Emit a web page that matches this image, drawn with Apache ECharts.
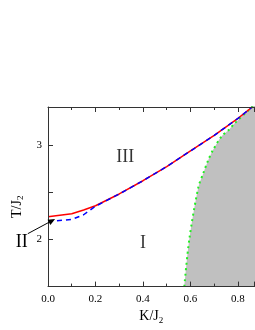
<!DOCTYPE html>
<html><head><meta charset="utf-8">
<script src="https://cdn.jsdelivr.net/npm/echarts@6/dist/echarts.min.js"></script>
<style>html,body{margin:0;padding:0;background:#fff}#c{width:255px;height:330px}</style>
</head><body><div id="c"></div>
<script>
// Data
const kValues   = [0, 0.1, 0.15, 0.2, 0.3, 0.4, 0.5, 0.6, 0.7, 0.8, 0.86];
const redT      = [2.24, 2.27, 2.31, 2.355, 2.48, 2.62, 2.77, 2.935, 3.10, 3.28, 3.40];
const blueT     = [2.19, 2.21, 2.26, 2.35, 2.48, 2.62, 2.77, 2.935, 3.10, 3.28, 3.40];
const boundaryK = [0.574, 0.595, 0.633, 0.654, 0.675, 0.696, 0.731, 0.762, 0.787, 0.851, 0.875];
const boundaryT = [1.5, 2.0, 2.55, 2.70, 2.84, 2.95, 3.09, 3.16, 3.23, 3.38, 3.43];
const regionLabels = [
  {text: 'III', k: 0.325, t: 2.87},
  {text: 'I',   k: 0.40,  t: 1.96}
];
const arrowFrom = [-0.085, 2.06];
const arrowTo   = [0.03, 2.215];
const arrowLabel = 'II';
const xTickLabels = ['0.0', '0.2', '0.4', '0.6', '0.8'];
const yTickLabels = ['2', '3'];

const serif = 'Liberation Serif';
const axisCol = '#333';
const chart = echarts.init(document.getElementById('c'));

function zip(a, b) { return a.map((v, i) => [v, b[i]]); }

const xCommon = {
  type: 'value', min: 0, max: 0.87, interval: 0.2, z: 5,
  axisLine: {show: true, onZero: false, lineStyle: {color: axisCol, width: 1}},
  axisTick: {show: true, inside: true, length: 5, lineStyle: {color: axisCol}},
  minorTick: {show: true, splitNumber: 2, length: 3, lineStyle: {color: axisCol}},
  splitLine: {show: false}
};

chart.setOption({
  animation: false,
  backgroundColor: '#fff',
  grid: {left: 48, top: 107, width: 206.6, height: 181.8, containLabel: false},
  xAxis: [
    Object.assign({}, xCommon, {
      position: 'bottom',
      axisLabel: {
        show: true, color: '#000', fontFamily: serif, fontSize: 11, margin: 7,
        showMaxLabel: false,
        formatter: v => { const s = v.toFixed(1); return xTickLabels.includes(s) ? s : ''; }
      },
      name: '{a|K/J}{s|2}', nameLocation: 'middle', nameGap: 18,
      nameTextStyle: {
        rich: {
          a: {fontFamily: serif, fontSize: 14, color: '#000'},
          s: {fontFamily: serif, fontSize: 9, color: '#000', verticalAlign: 'bottom', padding: [8, 0, 0, 0]}
        }
      }
    }),
    Object.assign({}, xCommon, {position: 'top', axisLabel: {show: false}})
  ],
  yAxis: [{
    type: 'value', min: 1.5, max: 3.4, interval: 0.5, z: 5,
    axisLine: {show: true, onZero: false, lineStyle: {color: axisCol, width: 1}},
    axisTick: {show: true, inside: true, length: 5, lineStyle: {color: axisCol}},
    splitLine: {show: false},
    axisLabel: {
      color: '#000', fontFamily: serif, fontSize: 11, margin: 6, showMaxLabel: false,
      formatter: v => { const s = String(Math.round(v)); return (Math.abs(v - Math.round(v)) < 1e-6 && yTickLabels.includes(s)) ? s : ''; }
    },
    name: '{a|T/J}{s|2}', nameLocation: 'middle', nameGap: 17, nameRotate: 90,
    nameTextStyle: {
      padding: [0, 20, 0, 0],
      rich: {
        a: {fontFamily: serif, fontSize: 14, color: '#000'},
        s: {fontFamily: serif, fontSize: 9, color: '#000', verticalAlign: 'bottom', padding: [8, 0, 0, 0]}
      }
    }
  }],
  series: [
    {
      type: 'line', data: zip(boundaryK, boundaryT), showSymbol: false, clip: true, z: 1,
      smooth: 0.3,
      lineStyle: {color: '#22ee22', width: 2, type: [2, 3.5]},
      areaStyle: {color: '#c0c0c0', opacity: 1, origin: 'start'}
    },
    {
      type: 'line', data: zip(kValues, redT), showSymbol: false, clip: true, z: 3,
      lineStyle: {color: '#ff0000', width: 1.5}
    },
    {
      type: 'line', data: zip(kValues, blueT), showSymbol: false, clip: true, z: 4,
      lineStyle: {color: '#0000ff', width: 1.5, type: [5, 4]}
    },
    {
      type: 'scatter', data: regionLabels.map(r => [r.k, r.t, r.text]), symbolSize: 0, z: 6,
      label: {show: true, position: 'inside', formatter: p => p.data[2], fontFamily: serif, fontSize: 18, color: '#000'}
    }
  ]
});

// Arrow annotation computed from data coordinates
const p0 = chart.convertToPixel({xAxisIndex: 0, yAxisIndex: 0}, arrowFrom);
const p1 = chart.convertToPixel({xAxisIndex: 0, yAxisIndex: 0}, arrowTo);
const dx = p1[0] - p0[0], dy = p1[1] - p0[1];
const len = Math.hypot(dx, dy), ux = dx / len, uy = dy / len;
const hl = 7, hw = 3;
const base = [p1[0] - ux * hl, p1[1] - uy * hl];
chart.setOption({graphic: [
  {type: 'line', z: 100, shape: {x1: p0[0], y1: p0[1], x2: base[0] + ux * 1, y2: base[1] + uy * 1},
   style: {stroke: '#000', lineWidth: 1}},
  {type: 'polygon', z: 100, shape: {points: [p1, [base[0] - uy * hw, base[1] + ux * hw], [base[0] + uy * hw, base[1] - ux * hw]]},
   style: {fill: '#000'}},
  {type: 'text', z: 100, x: p0[0] - 6, y: p0[1] + 9,
   style: {text: arrowLabel, fontFamily: serif, fontSize: 18, fill: '#000', align: 'center', verticalAlign: 'middle'}}
]});
</script></body></html>
